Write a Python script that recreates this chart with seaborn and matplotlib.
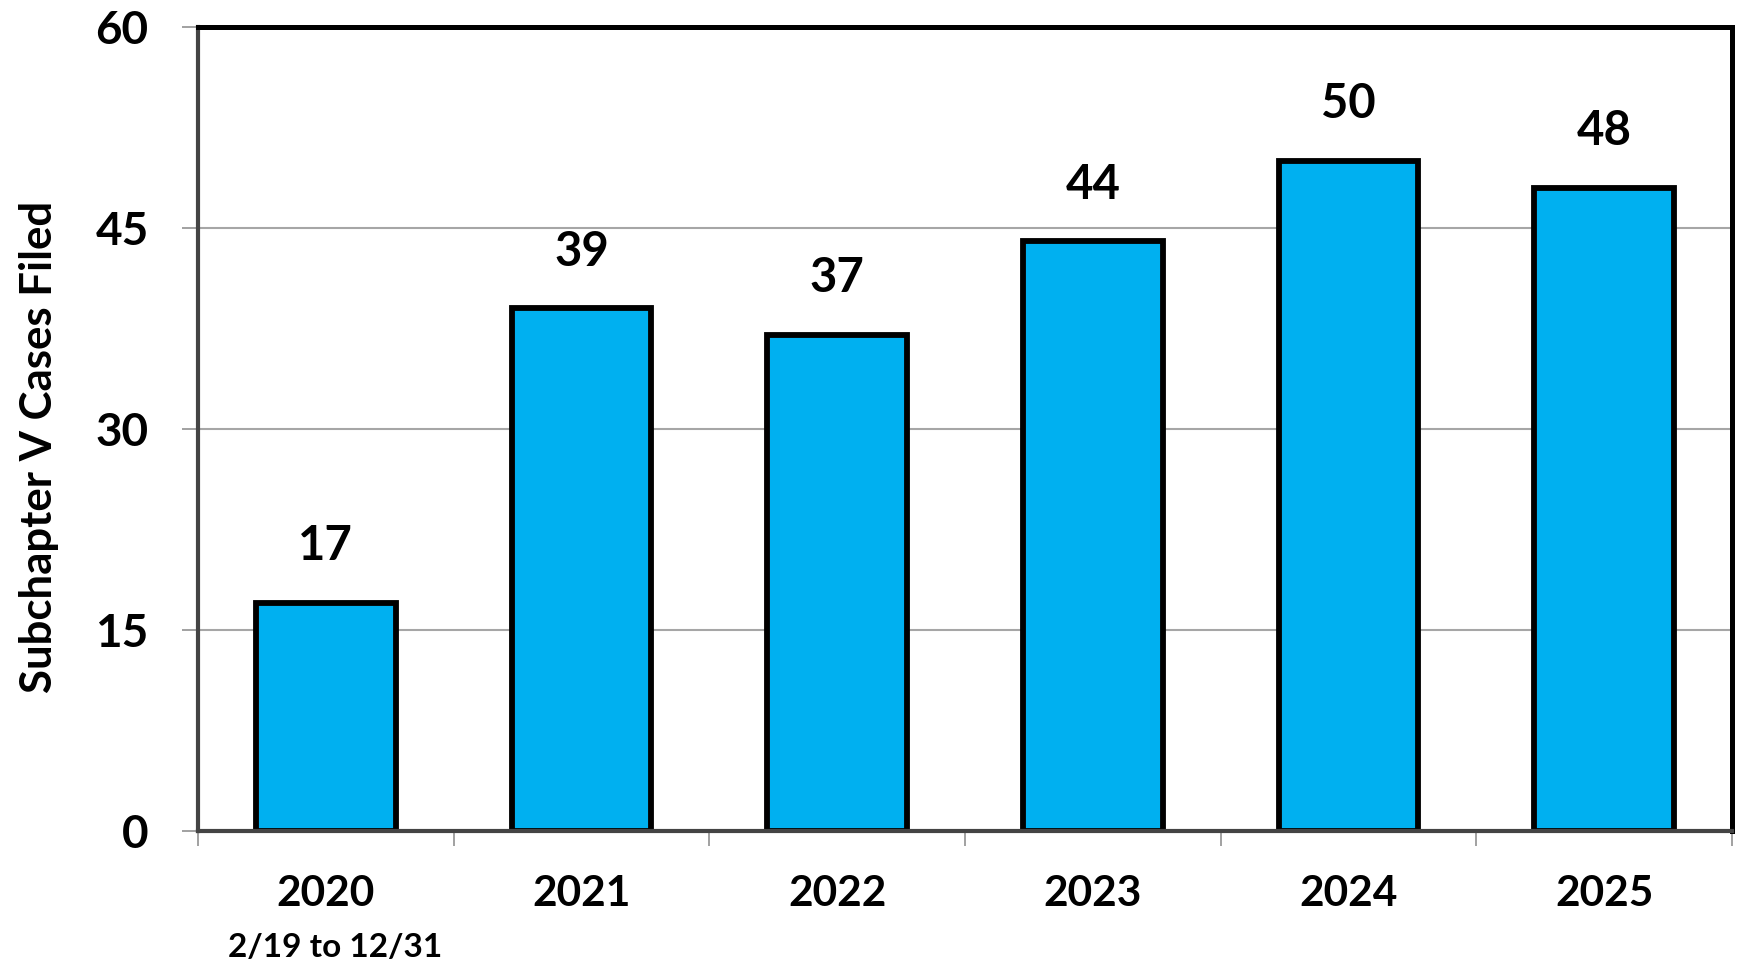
import matplotlib
matplotlib.use("Agg")
import matplotlib.pyplot as plt
import seaborn as sns
import pandas as pd
import numpy as np

years = ["2020", "2021", "2022", "2023", "2024", "2025"]
cases = [17, 39, 37, 44, 50, 48]
sub_label = "2/19 to 12/31"
y_ticks = [0, 15, 30, 45, 60]
y_title = "Subchapter V Cases Filed"

sns.set_style("white")
plt.rcParams['font.family'] = ['Lato', 'DejaVu Sans']
plt.rcParams['text.color'] = 'black'
plt.rcParams['axes.labelcolor'] = 'black'
plt.rcParams['xtick.labelcolor'] = 'black'
plt.rcParams['ytick.labelcolor'] = 'black'
W = 'bold'
plt.rcParams['font.weight'] = W

df = pd.DataFrame({"year": years, "cases": cases})

fig = plt.figure(figsize=(17.42, 9.73), dpi=100)
ax = fig.add_axes([198/1742, 1 - 831/973, (1732 - 198)/1742, (831 - 27)/973])

sns.barplot(data=df, x="year", y="cases", color="#00B0F0", width=0.545,
            edgecolor="black", linewidth=4.2, saturation=1, ax=ax, zorder=3)

ax.set_ylim(0, 60)
ax.set_xlim(-0.5, len(years) - 0.5)
ax.set_yticks(y_ticks)
ax.set_yticklabels([str(t) for t in y_ticks], fontsize=33, fontweight=W,
                   color='black')
ax.yaxis.grid(True, color="#a6a6a6", linewidth=1.5, zorder=0)
ax.set_axisbelow(True)

ax.tick_params(axis='y', which='major', left=True, length=11.5, width=1.1,
               color="#888888", pad=24)
ax.set_xticks(range(len(years)))
ax.set_xticklabels(years, fontsize=30.5, fontweight=W, color='black')
ax.tick_params(axis='x', which='major', bottom=True, length=0, pad=32)
ax.set_xticks(np.arange(-0.5, len(years), 1.0), minor=True)
ax.tick_params(axis='x', which='minor', bottom=True, length=11, width=1.1,
               color="#888888")

for s in ax.spines.values():
    s.set_color("black")
    s.set_linewidth(3.6)
    s.set_zorder(4)
ax.spines['left'].set_color("#444444")
ax.spines['left'].set_linewidth(3)
ax.spines['bottom'].set_color("#444444")
ax.spines['bottom'].set_linewidth(3)

ax.set_xlabel("")
ax.set_ylabel(y_title, fontsize=31.5, fontweight=W, color='black')
ax.yaxis.set_label_coords(-0.0905, 0.478)

ax.bar_label(ax.containers[0], labels=[str(v) for v in cases], padding=25,
             fontsize=34, fontweight=W, color='black')

ax.annotate(sub_label, xy=(0, -0.145), xycoords=ax.get_xaxis_transform(),
            xytext=(7, 0), textcoords='offset points',
            ha='center', va='center', fontsize=24, fontweight=W, color='black')

fig.savefig("out.png", dpi=100)
